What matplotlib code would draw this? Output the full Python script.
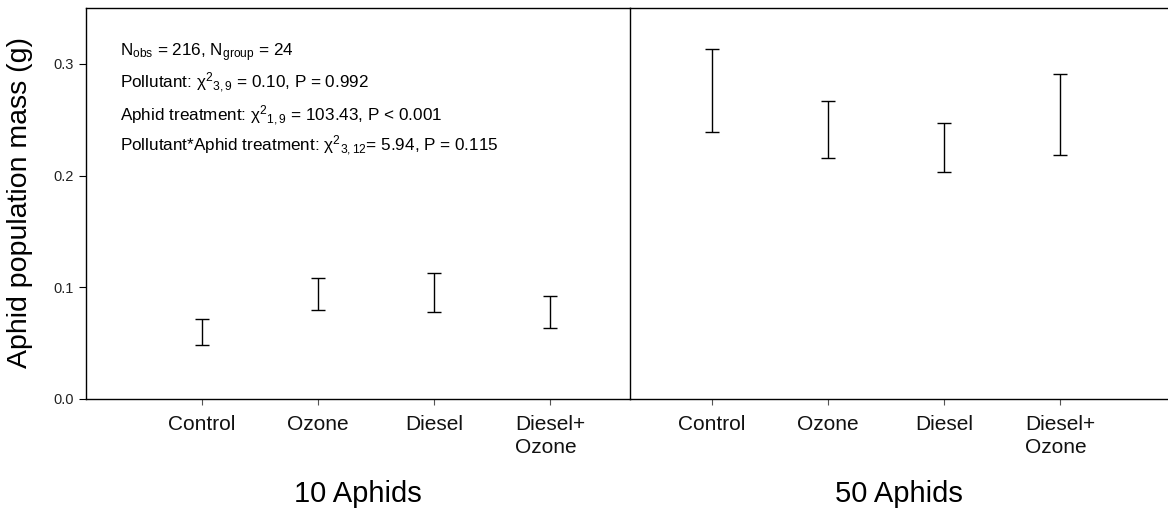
import matplotlib
matplotlib.use("Agg")
import matplotlib.pyplot as plt
import numpy as np

plt.rcParams['font.family'] = ['Liberation Sans', 'DejaVu Sans']
plt.rcParams['mathtext.fontset'] = 'custom'
plt.rcParams['mathtext.rm'] = 'Liberation Sans'
plt.rcParams['mathtext.it'] = 'Liberation Sans:italic'
plt.rcParams['mathtext.bf'] = 'Liberation Sans:bold'

categories = ["Control", "Ozone", "Diesel", "Diesel+\nOzone"]
panels = ["10 Aphids", "50 Aphids"]
# error bar ends (lower, upper) for each panel
low_10 = [0.048, 0.080, 0.078, 0.064]
high_10 = [0.072, 0.108, 0.113, 0.092]
low_50 = [0.239, 0.216, 0.203, 0.218]
high_50 = [0.313, 0.267, 0.247, 0.291]
yticks = [0.0, 0.1, 0.2, 0.3]
stats_lines = [
    r"N$_{\mathrm{obs}}$ = 216, N$_{\mathrm{group}}$ = 24",
    r"Pollutant: χ$^{2}{}_{3,9}$ = 0.10, P = 0.992",
    r"Aphid treatment: χ$^{2}{}_{1,9}$ = 103.43, P < 0.001",
    r"Pollutant*Aphid treatment: χ$^{2}{}_{3,12}$= 5.94, P = 0.115",
]

W, H = 1168, 512
fig = plt.figure(figsize=(W / 100, H / 100), dpi=100)

def fx(px):
    return px / W

def fy(py):
    return 1 - py / H

x_left, x_div, x_right = 86, 630, 1168
y_top, y_bot = 8, 399
ax_h = y_bot - y_top
ax1 = fig.add_axes([fx(x_left), fy(y_bot), fx(x_div - x_left), fy(y_top) - fy(y_bot)])
ax2 = fig.add_axes([fx(x_div), fy(y_bot), fx(x_right - x_div), fy(y_top) - fy(y_bot)])
ax2.patch.set_visible(False)

unit = 116.0
xpos = np.arange(1, len(categories) + 1)

for ax, lows, highs, xl in [
    (ax1, low_10, high_10, (0, (x_div - x_left) / unit)),
    (ax2, low_50, high_50, (1 - 82 / unit, 1 - 82 / unit + (x_right - x_div) / unit)),
]:
    lows = np.array(lows)
    highs = np.array(highs)
    mid = (lows + highs) / 2
    err = (highs - lows) / 2
    ax.errorbar(xpos, mid, yerr=err, fmt='none', ecolor='black', elinewidth=1.0,
                capsize=5, capthick=1.0)
    ax.set_xlim(*xl)
    ax.set_ylim(0, 0.35)
    ax.set_xticks(xpos)
    ax.set_xticklabels([])
    ax.tick_params(axis='x', direction='out', length=4, width=0.8, color='#555555')
    for xp, cat in zip(xpos, categories):
        ax.text(xp, -(415 - y_bot) / ax_h, cat, transform=ax.get_xaxis_transform(),
                fontsize=15, color='#111111', ha='center', va='top',
                multialignment='left', linespacing=1.26, clip_on=False)
    for s in ax.spines.values():
        s.set_linewidth(1.0)
        s.set_color('black')

ax1.set_yticks(yticks)
ax1.set_yticklabels([f"{v:.1f}" for v in yticks], fontsize=10.5, color='#222222')
ax1.tick_params(axis='y', direction='out', length=5, width=0.8, pad=4)

fig.text(fx(20), fy(203), "Aphid population mass (g)", fontsize=20.5, rotation=90,
         ha='center', va='center')

ax2.set_yticks([])
ax2.spines['right'].set_visible(False)
ax2.spines['left'].set_visible(False)

fig.text(fx((x_left + x_div) / 2), fy(502), panels[0], fontsize=21, ha='center', va='baseline')
fig.text(fx((x_div + x_right) / 2), fy(502), panels[1], fontsize=21, ha='center', va='baseline')

ys = [56, 88, 121, 151]
for yy, line in zip(ys, stats_lines):
    fig.text(fx(120), fy(yy), line, fontsize=12.3, ha='left', va='baseline')

fig.savefig("out.png", dpi=100)
